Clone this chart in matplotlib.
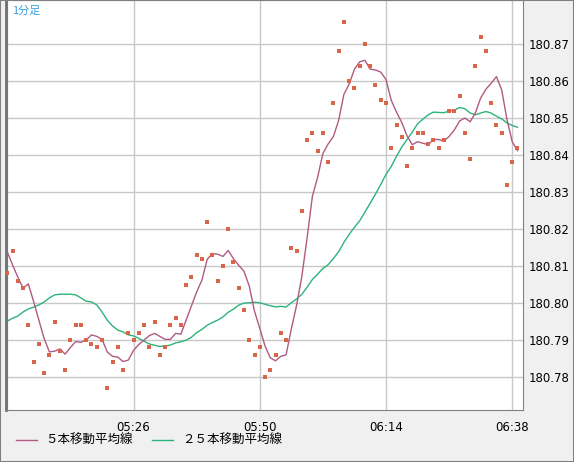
import numpy as np
import matplotlib
matplotlib.use("Agg")
from matplotlib import pyplot as plt
from matplotlib.patches import Rectangle

plt.rcParams['font.family'] = ['Noto Sans CJK JP', 'DejaVu Sans']

# 1-minute prices, 05:02 .. 06:39
prices = [
    180.808, 180.814, 180.806, 180.804, 180.794, 180.784, 180.789, 180.781, 180.786, 180.795,
    180.787, 180.782, 180.790, 180.794, 180.794, 180.790, 180.789, 180.788, 180.790, 180.777,
    180.784, 180.788, 180.782, 180.792, 180.790, 180.792, 180.794, 180.788, 180.795, 180.786,
    180.788, 180.794, 180.796, 180.794, 180.805, 180.807, 180.813, 180.812, 180.822, 180.813,
    180.806, 180.810, 180.820, 180.811, 180.804, 180.798, 180.790, 180.786, 180.788, 180.780,
    180.782, 180.786, 180.792, 180.790, 180.815, 180.814, 180.825, 180.844, 180.846, 180.841,
    180.846, 180.838, 180.854, 180.868, 180.876, 180.860, 180.858, 180.864, 180.870, 180.864,
    180.859, 180.855, 180.854, 180.842, 180.848, 180.845, 180.837, 180.842, 180.846, 180.846,
    180.843, 180.844, 180.842, 180.844, 180.852, 180.852, 180.856, 180.846, 180.839, 180.864,
    180.872, 180.868, 180.854, 180.848, 180.846, 180.832, 180.838, 180.842,
]
# moving average values at the start of the window (history before 05:02)
ma5_head = [180.8138, 180.8103, 180.8070, 180.8040]
ma25_head = [
    180.7951, 180.7959, 180.7965, 180.7976, 180.7984, 180.7989, 180.7995, 180.8003,
    180.8014, 180.8022, 180.8024, 180.8024, 180.8024, 180.8022, 180.8014, 180.8005,
    180.8003, 180.7995, 180.7976, 180.7954, 180.7938, 180.7927, 180.7922, 180.7914,
]
tick_idx = [24, 48, 72, 96]
tick_labels = ["05:26", "05:50", "06:14", "06:38"]
y_ticks = [180.78, 180.79, 180.80, 180.81, 180.82, 180.83, 180.84, 180.85, 180.86, 180.87]

p = np.array(prices)
x = np.arange(len(p))
ma5 = np.array(ma5_head + [p[i - 4:i + 1].mean() for i in range(4, len(p))])
ma25 = np.array(ma25_head + [p[i - 24:i + 1].mean() for i in range(24, len(p))])

W, H = 574, 462
fig = plt.figure(figsize=(W / 100, H / 100), dpi=100, facecolor='#f0f0f0')
ax = fig.add_axes([6 / W, 52 / H, 517 / W, 410 / H])
ax.set_facecolor('white')

ax.set_xlim(-0.25, 98.05)
ax.set_ylim(180.7711, 180.8819)

for t in [0] + tick_idx:
    ax.axvline(t, color='#c8c8c8', lw=1, zorder=0)
for v in y_ticks:
    ax.axhline(v, color='#c8c8c8', lw=1, zorder=0)

ax.plot(x, ma25, color='#2db37a', lw=1, zorder=2)
ax.plot(x, ma5, color='#b05a84', lw=1, zorder=3)
ax.scatter(x, p, marker='s', s=9, color='#d9654b', linewidths=0, zorder=4)

ax.yaxis.tick_right()
ax.set_yticks(y_ticks)
ax.set_yticklabels([f"{v:.2f}" for v in y_ticks], family='DejaVu Sans', fontsize=8.5)
ax.set_xticks(tick_idx)
ax.set_xticklabels(tick_labels, family='DejaVu Sans', fontsize=8.5)
ax.tick_params(axis='x', length=0, pad=8, colors='black')
ax.tick_params(axis='y', length=0, pad=4, colors='black')

for s in ['top', 'right', 'bottom']:
    ax.spines[s].set_color('#808080')
ax.spines['left'].set_color('#707070')
ax.spines['left'].set_linewidth(2)

ax.text(0.012, 0.985, "1分足", transform=ax.transAxes, color='#3aa0e0',
        fontsize=8, va='top', ha='left')

# legend
fig.add_artist(plt.Line2D([16 / W, 37 / W], [1 - 440 / H] * 2, color='#b05a84', lw=1))
fig.text(45 / W, 1 - 440 / H, "５本移動平均線", fontsize=9, va='center')
fig.add_artist(plt.Line2D([152 / W, 173 / W], [1 - 440 / H] * 2, color='#2db37a', lw=1))
fig.text(182 / W, 1 - 440 / H, "２５本移動平均線", fontsize=9, va='center')

fig.add_artist(Rectangle((0, 0), 1, 1, transform=fig.transFigure, fill=False,
                         edgecolor='#808080', lw=1.5))

fig.savefig("out.png", dpi=100, facecolor=fig.get_facecolor())
